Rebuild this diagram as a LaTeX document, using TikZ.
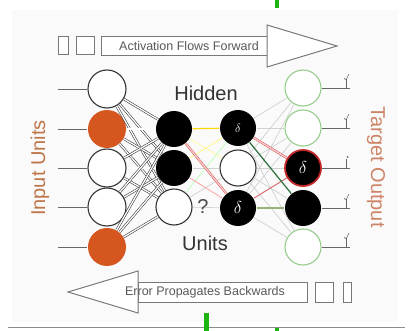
\documentclass[tikz,border=0pt]{standalone}
\usepackage{fontspec}
\setmainfont{Liberation Sans}
\definecolor{inorange}{RGB}{214,86,32}
\definecolor{inlabel}{RGB}{190,118,74}
\definecolor{outlabel}{RGB}{206,132,104}
\definecolor{outgreen}{RGB}{150,204,140}
\definecolor{errred}{RGB}{196,40,40}
\definecolor{darkgreen}{RGB}{40,110,60}
\definecolor{olive}{RGB}{150,180,120}
\definecolor{markgreen}{RGB}{30,180,20}
\definecolor{arrowgray}{RGB}{120,120,120}
\begin{document}
\begin{tikzpicture}[x=1pt,y=-1pt,
  unit/.style={circle, inner sep=0pt, minimum size=36pt, line width=1.1pt},
  inunit/.style={unit, minimum size=38pt, draw=black!80, fill=white},
  inon/.style={unit, minimum size=38pt, fill=inorange},
  hidon/.style={unit, fill=black},
  hidoff/.style={unit, draw=black!80, fill=white},
  outoff/.style={unit, draw=outgreen, fill=white},
  outerr/.style={unit, fill=black, draw=errred, line width=1.8pt},
  deltatext/.style={text=white, font=\fontsize{17}{17}\selectfont},
  wire/.style={draw=black!80, line width=0.55pt, double=white, double distance=1.3pt},
  feed/.style={draw=black!60, line width=0.9pt},
  faint/.style={draw=black!18, line width=0.7pt},
  bigtext/.style={font=\fontsize{20}{22}\selectfont},
  arrowtext/.style={font=\fontsize{12.5}{13}\selectfont, text=black!65, inner sep=0pt},
  flowbox/.style={draw=arrowgray, line width=1pt, fill=white},
  tickmark/.style={draw=black!60, line width=0.8pt}
]
\useasboundingbox (0,0) rectangle (412,331);

% panel and rule
\fill[black!2] (12,10) rectangle (398,322);
\draw[black!45, line width=1pt] (8,327) -- (405,327);

% markers
\fill[markgreen] (275,0) rectangle (279,8);
\fill[markgreen] (204,313) rectangle (209,331);
\fill[markgreen] (275,328) rectangle (279,331);

% forward arrow
\draw[flowbox] (58,37) rectangle (68,55);
\draw[flowbox] (76,37) rectangle (94,55);
\draw[flowbox] (101,37) rectangle (267,56);
\draw[flowbox] (267,25) -- (337,46) -- (267,67) -- cycle;
\node[arrowtext] (fwd) at (189,46.5) {Activation Flows Forward};

% backward arrow
\draw[flowbox] (138,282) rectangle (307,302);
\draw[flowbox] (138,271) -- (68,292) -- (138,313) -- cycle;
\draw[flowbox] (315,282) rectangle (333,302);
\draw[flowbox] (343,282) rectangle (351,302);
\node[arrowtext] (bwd) at (205,292) {Error Propagates Backwards};

% input units
\node[inunit] (i1) at (107,89) {};
\node[inon]   (i2) at (107,129) {};
\node[inunit] (i3) at (107,168) {};
\node[inunit] (i4) at (107,207) {};
\node[inon]   (i5) at (107,247) {};

% first hidden layer
\node[hidon]  (h1) at (174,129) {};
\node[hidon]  (h2) at (174,168) {};
\node[hidoff] (h3) at (174,207) {};

% second hidden layer
\node[hidon]  (g1) at (238,128) {};
\node[hidoff] (g2) at (238,168) {};
\node[hidon]  (g3) at (238,208) {};
\node[deltatext, font=\fontsize{12}{12}\selectfont] at (g1) {$\delta$};
\node[deltatext] at (g3) {$\delta$};

% output units
\node[outoff] (o1) at (303,88) {};
\node[outoff] (o2) at (303,128) {};
\node[outerr] (o3) at (303,168) {};
\node[hidon]  (o4) at (303,208) {};
\node[outoff] (o5) at (303,247) {};
\node[deltatext] at (o3) {$\delta$};

% input feeds
\foreach \k/\y in {1/89,2/129,3/168,4/207,5/247}{
  \coordinate (in\k) at (58,\y);
  \draw[feed] (in\k) -- (i\k);
}

% input to first hidden layer
\foreach \a in {1,...,5}{
  \foreach \b in {1,2,3}{
    \draw[wire] (i\a) -- (h\b);
  }
}

% first to second hidden layer
\draw[draw=yellow!35, line width=0.8pt] (h1) -- (g2);
\draw[draw=yellow!45, line width=0.8pt] (h2) -- (g1);
\draw[faint] (h2) -- (g2);
\draw[draw=green!25, line width=0.8pt] (h3) -- (g1);
\draw[faint] (h3) -- (g2);
\draw[faint] (h3) -- (g3);
\draw[draw=red!35, line width=0.8pt] (h2) -- (g3);
\draw[draw=yellow!75!orange, line width=1.2pt] (h1) -- (g1);
\draw[draw=errred!80, line width=0.5pt, double=red!20, double distance=1.3pt] (h1) -- (g3);

% second hidden layer to outputs
\foreach \a in {1,2,3}{
  \foreach \b in {1,2,5}{
    \draw[faint] (g\a) -- (o\b);
  }
}
\draw[faint] (g2) -- (o3);
\draw[faint] (g2) -- (o4);
\draw[draw=errred!80, line width=0.5pt, double=red!20, double distance=1.3pt] (g1) -- (o3);
\draw[draw=errred!70, line width=0.9pt] (g3) -- (o3);
\draw[draw=darkgreen, line width=1.2pt] (g1) -- (o4);
\draw[draw=olive, line width=2pt] (g3) -- (o4);

% output targets
\foreach \k/\y in {1/88,2/128,3/168,4/208,5/247}{
  \coordinate (out\k) at (350,\y);
  \draw[feed] (o\k) -- (out\k);
  \draw[tickmark] (out\k) ++(-4,0) -- ++(0,-9);
}
\foreach \k in {1,2,4,5}{
  \draw[tickmark, line width=0.6pt] (out\k) ++(-6,-10) -- ++(2,2) -- ++(3,-6);
}
\fill[black!60] (out3) ++(-2.5,-11) circle (1);

% labels
\node[bigtext, text=black!80] (hid) at (206,93) {Hidden};
\node[bigtext, text=black!80] (uni) at (205,243) {Units};
\node[bigtext, text=black!70] (q) at (203,207) {?};
\node[bigtext, text=inlabel, rotate=90] (inl) at (40,168) {Input Units};
\node[bigtext, text=outlabel, rotate=-90] (outl) at (376,167) {Target Output};
\end{tikzpicture}
\end{document}
